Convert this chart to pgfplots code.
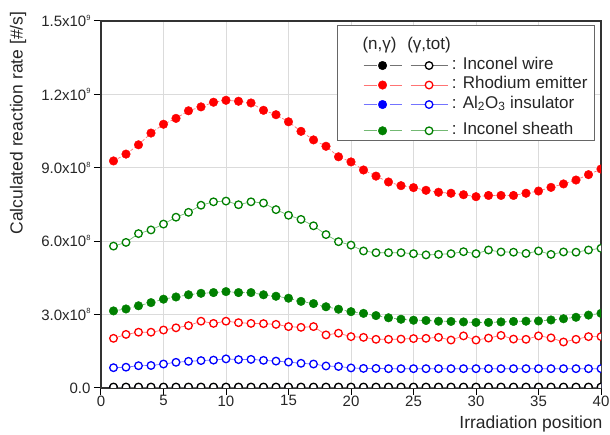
\documentclass[border=0pt]{standalone}
\usepackage{fontspec}
\setmainfont{Liberation Sans}
\usepackage{pgfplots}
\usepackage{pgfplotstable}
\pgfplotsset{compat=1.18}
\definecolor{og}{RGB}{0,128,0}
\newcommand\pw[1]{\raisebox{0.8ex}{\fontsize{7.5}{8}\selectfont #1}}
\newcommand\lt{\hspace*{0pt}}

% values in units of 1e9 #/s
\pgfplotstableread{
x rhf rho shf sho alo alf wf wo
1 0.928 0.203 0.315 0.580 0.083 0.001 0.002 0.004
2 0.956 0.219 0.323 0.595 0.085 0.001 0.002 0.004
3 0.994 0.228 0.336 0.631 0.091 0.001 0.002 0.004
4 1.042 0.228 0.349 0.646 0.092 0.001 0.002 0.004
5 1.078 0.237 0.363 0.670 0.098 0.001 0.002 0.004
6 1.102 0.246 0.372 0.698 0.105 0.001 0.002 0.004
7 1.133 0.255 0.381 0.718 0.109 0.001 0.002 0.004
8 1.149 0.273 0.387 0.747 0.112 0.001 0.002 0.004
9 1.168 0.264 0.390 0.761 0.114 0.001 0.002 0.004
10 1.176 0.273 0.394 0.764 0.119 0.001 0.002 0.004
11 1.172 0.267 0.390 0.749 0.116 0.001 0.002 0.004
12 1.165 0.264 0.390 0.761 0.117 0.001 0.002 0.004
13 1.135 0.263 0.381 0.756 0.113 0.001 0.002 0.004
14 1.117 0.260 0.375 0.729 0.110 0.001 0.002 0.004
15 1.088 0.251 0.367 0.706 0.106 0.001 0.002 0.004
16 1.049 0.248 0.354 0.689 0.101 0.001 0.002 0.004
17 1.014 0.251 0.345 0.663 0.098 0.001 0.002 0.004
18 0.988 0.217 0.332 0.627 0.090 0.001 0.002 0.004
19 0.945 0.224 0.322 0.598 0.088 0.001 0.002 0.004
20 0.924 0.210 0.312 0.584 0.082 0.001 0.002 0.004
21 0.891 0.207 0.305 0.560 0.080 0.001 0.002 0.004
22 0.866 0.199 0.296 0.553 0.080 0.001 0.002 0.004
23 0.842 0.199 0.287 0.553 0.079 0.001 0.002 0.004
24 0.827 0.200 0.281 0.553 0.079 0.001 0.002 0.004
25 0.819 0.202 0.277 0.549 0.079 0.001 0.002 0.004
26 0.808 0.203 0.276 0.544 0.079 0.001 0.002 0.004
27 0.800 0.207 0.273 0.546 0.079 0.001 0.002 0.004
28 0.796 0.196 0.272 0.549 0.079 0.001 0.002 0.004
29 0.790 0.213 0.270 0.557 0.079 0.001 0.002 0.004
30 0.782 0.196 0.268 0.549 0.079 0.001 0.002 0.004
31 0.787 0.204 0.268 0.564 0.079 0.001 0.002 0.004
32 0.787 0.215 0.270 0.556 0.079 0.001 0.002 0.004
33 0.787 0.200 0.272 0.555 0.079 0.001 0.002 0.004
34 0.796 0.199 0.273 0.550 0.079 0.001 0.002 0.004
35 0.805 0.213 0.274 0.560 0.079 0.001 0.002 0.004
36 0.820 0.205 0.278 0.546 0.079 0.001 0.002 0.004
37 0.834 0.188 0.283 0.556 0.079 0.001 0.002 0.004
38 0.850 0.199 0.289 0.555 0.079 0.001 0.002 0.004
39 0.872 0.210 0.298 0.564 0.079 0.001 0.002 0.004
40 0.895 0.210 0.305 0.571 0.079 0.001 0.002 0.004
}\data

\tikzset{
  F/.style={color=#1!55, line width=0.7pt, dash pattern=on 3pt off 2pt,
    mark=*, mark size=4.3pt, mark options={solid, fill=#1, draw=#1, line width=0.4pt}},
  O/.style={color=#1!55, line width=0.7pt, solid,
    mark=*, mark size=3.8pt, mark options={solid, fill=white, draw=#1, line width=1.3pt}},
}
\newcommand\legpair[1]{\path (0pt,0pt) (104pt,0pt);
  \draw[F=#1, dash pattern=on 13pt off 13pt, dash phase=0pt, mark repeat=2, mark phase=2]
    plot coordinates {(20pt,0pt)(39pt,0pt)(58pt,0pt)};
  \draw[O=#1, mark repeat=2, mark phase=2]
    plot coordinates {(67pt,0pt)(85.5pt,0pt)(104pt,0pt)};}

\begin{document}
\begin{tikzpicture}
\begin{axis}[
  scale only axis, width=500pt, height=367pt,
  xmin=0, xmax=40, ymin=0, ymax=1.5,
  xtick={0,5,...,40},
  ytick={0,0.3,0.6,0.9,1.2,1.5},
  yticklabels={0.0,3.0x10\pw{8},6.0x10\pw{8},9.0x10\pw{8},1.2x10\pw{9},1.5x10\pw{9}},
  /pgf/number format/assume math mode=true,
  tick label style={font=\fontsize{15}{18}\selectfont, text=black!85},
  xticklabel style={yshift=3pt},
  tick align=outside, xtick pos=bottom, ytick pos=left,
  major tick length=7pt,
  tick style={black, line width=1pt},
  axis line style={black!80, line width=1.1pt},
  grid=major, major grid style={gray!28, line width=0.9pt},
  clip marker paths=true,
  xlabel={Irradiation position},
  ylabel={Calculated reaction rate [\#/s]},
  every axis x label/.style={at={(axis description cs:1.01,0)}, anchor=east, yshift=-36pt,
    font=\fontsize{17.5}{20}\selectfont, text=black!85},
  every axis y label/.style={at={(axis description cs:-0.166,0.722)}, rotate=90, anchor=center,
    font=\fontsize{17.5}{20}\selectfont, text=black!85},
  legend cell align=left,
  legend style={at={(0.988,0.989)}, anchor=north east, draw=black!60, line width=1pt,
    font=\fontsize{17}{19}\selectfont, text=black!85, inner xsep=6pt, inner ysep=1pt,
    row sep=3pt, nodes={inner xsep=1pt, inner ysep=1pt, text height=11pt, text depth=3.5pt}},
]
% plots
\addplot[F=blue, forget plot] table[x=x, y=alf] {\data};
\addplot[F=black, forget plot] table[x=x, y=wf] {\data};
\addplot[O=black, forget plot] table[x=x, y=wo] {\data};
\addplot[F=red, forget plot] table[x=x, y=rhf] {\data};
\addplot[O=red, forget plot] table[x=x, y=rho] {\data};
\addplot[O=blue, forget plot] table[x=x, y=alo] {\data};
\addplot[F=og, forget plot] table[x=x, y=shf] {\data};
\addplot[O=og, forget plot] table[x=x, y=sho] {\data};
% legend: filled = (n,gamma), open = (gamma,tot)
\addlegendimage{legend image code/.code={\path (0pt,-2pt) (104pt,19pt);
  \node[inner sep=0pt, anchor=center] at (36pt,0pt) {(n,γ)};
  \node[inner sep=0pt, anchor=center] at (85.5pt,0pt) {(γ,tot)};}}
\addlegendentry{\mbox{}}
\addlegendimage{legend image code/.code={\legpair{black}}}
\addlegendentry{\lt: Inconel wire}
\addlegendimage{legend image code/.code={\legpair{red}}}
\addlegendentry{\lt: Rhodium emitter}
\addlegendimage{legend image code/.code={\legpair{blue}\path (0pt,-14.5pt);}}
\addlegendentry{\lt: Al\textsubscript{2}O\textsubscript{3} insulator}
\addlegendimage{legend image code/.code={\legpair{og}}}
\addlegendentry{\lt: Inconel sheath}
\end{axis}
\pgfresetboundingbox
\path[use as bounding box] ([shift={(-101pt,-47pt)}]current axis.south west) rectangle ([shift={(9pt,21pt)}]current axis.north east);
\end{tikzpicture}
\end{document}
